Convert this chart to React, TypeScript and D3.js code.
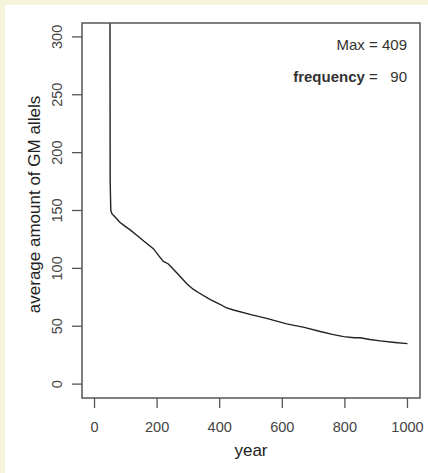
import React from 'react';
import * as d3 from 'd3';

// values
const years = [49, 50, 52, 56, 65, 80, 97, 115, 134, 160, 188, 205, 220, 235, 246, 270, 294, 315, 337, 370, 401, 420, 444, 500, 550, 614, 670, 721, 760, 796, 830, 849, 880, 913, 960, 1000];
const allels = [409, 176, 150, 147, 144.6, 140, 136.5, 133, 128.8, 123, 117, 111, 106, 104, 101, 94, 87, 82, 78.3, 73, 69, 66, 64, 60, 56.8, 52, 49, 45.5, 43, 41, 40, 40, 38.5, 37.4, 36, 35];
const xTicks = [0, 200, 400, 600, 800, 1000];
const yTicks = [0, 50, 100, 150, 200, 250, 300];
const maxValue = 409;
const frequency = 90;

const W = 428;
const H = 473;
const FONT = '"Liberation Sans", Arial, Helvetica, sans-serif';

const App = () => {
  // plot box (R style, 4% padding on the axis ranges)
  const left = 82;
  const right = 420;
  const top = 23;
  const bottom = 398;

  const x = d3.scaleLinear().domain([-40, 1040]).range([left, right]);
  const y = d3.scaleLinear().domain([-12, 312]).range([bottom, top]);

  const line = d3
    .line<number>()
    .x((d, i) => x(years[i]))
    .y(d => y(d));

  return (
    <svg width={W} height={H} style={{ position: 'absolute', left: 0, top: 0 }}>
      <rect x={0} y={0} width={W} height={H} fill="#f5f3dc" />
      <rect x={5} y={5} width={W - 5} height={H - 5} fill="#ffffff" />
      <defs>
        <clipPath id="plotclip">
          <rect x={left} y={top} width={right - left} height={bottom - top} />
        </clipPath>
      </defs>

      <path
        d={line(allels) || ''}
        fill="none"
        stroke="#222"
        strokeWidth={1.4}
        clipPath="url(#plotclip)"
      />

      <rect
        x={left}
        y={top}
        width={right - left}
        height={bottom - top}
        fill="none"
        stroke="#555"
        strokeWidth={1.5}
      />

      {/* x axis */}
      {xTicks.map(t => (
        <g key={'x' + t}>
          <line x1={x(t)} x2={x(t)} y1={bottom} y2={bottom + 10} stroke="#555" strokeWidth={1.3} />
          <text
            x={x(t)}
            y={432}
            textAnchor="middle"
            fontFamily={FONT}
            fontSize={14.5}
            fill="#444"
          >
            {t}
          </text>
        </g>
      ))}

      {/* y axis */}
      {yTicks.map(t => (
        <g key={'y' + t}>
          <line x1={left - 10} x2={left} y1={y(t)} y2={y(t)} stroke="#555" strokeWidth={1.3} />
          <text
            transform={`translate(62, ${y(t)}) rotate(-90)`}
            textAnchor="middle"
            fontFamily={FONT}
            fontSize={14.5}
            fill="#444"
          >
            {t}
          </text>
        </g>
      ))}

      <text x={(left + right) / 2} y={456} textAnchor="middle" fontFamily={FONT} fontSize={17} fill="#222">
        year
      </text>
      <text
        transform={`translate(40, ${(top + bottom) / 2 - 6}) rotate(-90)`}
        textAnchor="middle"
        fontFamily={FONT}
        fontSize={17}
        fill="#222"
      >
        average amount of GM allels
      </text>

      <text x={407} y={50} textAnchor="end" fontFamily={FONT} fontSize={15} fill="#333">
        {`Max = ${maxValue}`}
      </text>
      <text x={407} y={82} textAnchor="end" fontFamily={FONT} fontSize={15} fill="#333">
        <tspan fontWeight="bold">frequency</tspan>
        <tspan>{' =\u00a0\u00a0\u00a0'}</tspan>
        <tspan>{frequency}</tspan>
      </text>
    </svg>
  );
};

export default App;
